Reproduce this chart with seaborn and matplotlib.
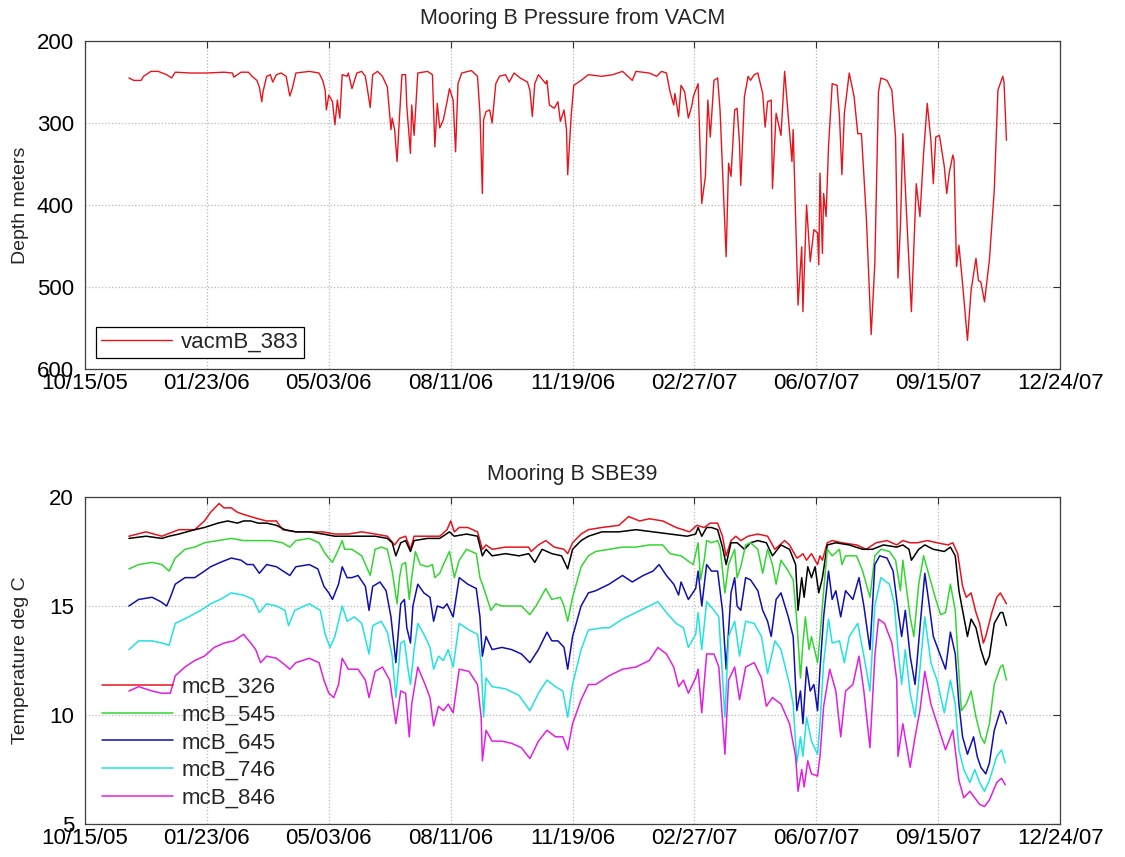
import matplotlib
matplotlib.use("Agg")
import numpy as np
import pandas as pd
import matplotlib.pyplot as plt
import matplotlib.dates as mdates
import seaborn as sns

# day offsets are counted from 10/15/05
START = pd.Timestamp("2005-10-15")

vacm_day = [36, 40, 46, 48, 54, 60, 67, 71, 74, 87, 99, 114, 121, 122, 128, 134, 137, 141, 143, 145,
            146, 149, 152, 154, 157, 161, 165, 168, 170, 173, 184, 192, 195, 197, 198, 200, 203, 205, 207, 209,
            211, 215, 216, 219, 223, 227, 230, 234, 236, 240, 244, 248, 251, 252, 254, 256, 258, 260, 263, 264,
            267, 268, 270, 273, 281, 285, 287, 289, 291, 294, 297, 299, 302, 304, 306, 309, 317, 322, 324, 326,
            327, 329, 332, 334, 337, 340, 345, 348, 352, 357, 363, 365, 367, 369, 372, 378, 379, 381, 385, 388,
            390, 393, 395, 396, 399, 401, 407, 413, 424, 433, 441, 449, 452, 463, 469, 473, 477, 480, 483, 484,
            487, 489, 492, 495, 498, 499, 503, 506, 509, 511, 513, 516, 519, 521, 526, 528, 530, 533, 535, 537,
            538, 541, 544, 546, 549, 552, 556, 558, 560, 563, 564, 567, 571, 574, 577, 580, 581, 585, 588, 589,
            592, 595, 598, 601, 602, 603, 605, 606, 608, 610, 613, 617, 619, 621, 623, 627, 631, 634, 637, 641,
            645, 648, 651, 653, 658, 662, 665, 667, 669, 671, 674, 678, 682, 685, 688, 691, 694, 696, 698, 701,
            705, 707, 709, 712, 713, 715, 717, 720, 724, 727, 731, 733, 735, 738, 742, 746, 749, 753, 754, 756]
vacm_depth = [245, 248, 248, 243, 237, 237, 241, 245, 238, 239, 239, 238, 239, 244, 238, 238, 243, 248, 256, 274,
              262, 243, 241, 250, 241, 239, 243, 267, 258, 239, 237, 239, 248, 260, 284, 266, 274, 302, 272, 294,
              241, 243, 239, 258, 239, 237, 243, 281, 241, 237, 243, 256, 308, 294, 308, 347, 292, 241, 241, 280,
              337, 278, 315, 239, 237, 241, 329, 276, 306, 296, 274, 258, 272, 335, 252, 239, 236, 243, 288, 386,
              296, 286, 284, 300, 252, 243, 241, 250, 239, 245, 250, 260, 292, 252, 241, 252, 248, 278, 282, 274,
              298, 284, 308, 363, 288, 254, 248, 241, 243, 241, 237, 248, 237, 239, 243, 237, 239, 262, 278, 264,
              292, 254, 262, 294, 278, 268, 252, 398, 365, 272, 317, 248, 245, 284, 463, 349, 365, 284, 282, 325,
              376, 268, 243, 248, 241, 239, 264, 305, 274, 272, 380, 288, 315, 237, 292, 347, 308, 522, 451, 530,
              400, 469, 430, 434, 473, 361, 459, 386, 414, 329, 252, 254, 292, 363, 288, 239, 268, 313, 313, 414,
              558, 471, 262, 245, 248, 260, 317, 489, 426, 313, 410, 530, 374, 414, 337, 276, 321, 374, 317, 315,
              353, 386, 361, 339, 345, 475, 449, 496, 565, 504, 465, 492, 494, 518, 467, 382, 260, 243, 250, 321]

t326_day = [36, 50, 63, 77, 90, 98, 103, 110, 114, 120, 125, 130, 136, 142, 149, 157, 162, 173, 184, 195,
            205, 216, 227, 238, 248, 254, 258, 263, 267, 270, 281, 291, 297, 300, 303, 307, 314, 322, 326, 329,
            334, 345, 356, 364, 366, 372, 378, 385, 393, 396, 400, 407, 413, 424, 438, 446, 455, 463, 474, 485,
            496, 502, 508, 513, 519, 523, 526, 530, 534, 538, 544, 552, 560, 566, 574, 578, 584, 587, 589, 592,
            596, 601, 603, 605, 609, 613, 621, 633, 641, 649, 658, 666, 671, 677, 683, 691, 699, 708, 712, 716,
            720, 723, 727, 731, 734, 737, 739, 744, 748, 751, 753, 756]
t326 = [18.2, 18.4, 18.2, 18.5, 18.5, 18.9, 19.3, 19.7, 19.5, 19.5, 19.3, 19.2, 19.1, 19.0, 18.9, 18.9, 18.5, 18.4, 18.4, 18.4,
        18.3, 18.3, 18.4, 18.3, 18.2, 17.8, 18.1, 18.2, 17.6, 18.2, 18.2, 18.2, 18.5, 18.9, 18.4, 18.6, 18.6, 18.4, 17.6, 17.8,
        17.6, 17.7, 17.7, 17.7, 17.5, 17.8, 18.0, 17.7, 17.6, 17.4, 17.9, 18.3, 18.5, 18.6, 18.7, 19.1, 18.9, 19.0, 18.9, 18.6,
        18.4, 18.7, 18.6, 18.8, 18.8, 18.2, 17.3, 18.0, 18.2, 18.0, 18.2, 18.3, 18.2, 17.6, 18.0, 17.8, 17.2, 17.3, 17.4, 17.1,
        17.4, 16.9, 17.3, 17.1, 17.9, 18.0, 17.9, 17.8, 17.6, 17.9, 18.0, 17.8, 18.0, 17.9, 17.9, 18.0, 17.9, 17.8, 17.9, 17.4,
        15.9, 15.4, 15.6, 14.7, 14.2, 13.3, 13.6, 14.7, 15.4, 15.6, 15.4, 15.1]

tblk_day = [36, 50, 63, 69, 77, 90, 98, 109, 117, 125, 130, 136, 142, 149, 157, 164, 173, 184, 195, 205,
            216, 227, 238, 248, 252, 255, 259, 263, 267, 270, 281, 291, 299, 303, 313, 322, 326, 329, 334, 345,
            356, 364, 369, 375, 383, 391, 396, 400, 407, 413, 424, 438, 452, 466, 480, 494, 501, 503, 506, 510,
            514, 519, 523, 526, 530, 535, 541, 546, 552, 559, 564, 571, 578, 583, 585, 588, 590, 593, 596, 599,
            602, 605, 609, 616, 627, 638, 646, 655, 666, 671, 676, 678, 684, 689, 696, 705, 710, 714, 717, 724,
            727, 731, 735, 739, 742, 746, 751, 753, 756]
tblk = [18.1, 18.2, 18.1, 18.2, 18.3, 18.5, 18.6, 18.8, 18.9, 18.8, 18.9, 18.9, 18.8, 18.8, 18.7, 18.5, 18.4, 18.4, 18.3, 18.2,
        18.2, 18.2, 18.2, 18.1, 17.9, 17.3, 17.9, 18.0, 17.5, 18.0, 18.1, 18.1, 18.4, 18.2, 18.3, 18.2, 17.3, 17.6, 17.3, 17.4,
        17.3, 17.4, 17.0, 17.6, 17.4, 17.3, 16.7, 17.6, 18.0, 18.2, 18.4, 18.4, 18.5, 18.4, 18.3, 18.2, 18.3, 18.6, 18.2, 18.6,
        18.6, 18.5, 17.7, 16.9, 17.9, 17.9, 17.6, 17.9, 18.0, 17.9, 17.3, 17.8, 17.6, 16.9, 14.8, 16.3, 15.4, 16.8, 16.3, 16.8,
        15.6, 16.3, 17.8, 17.9, 17.8, 17.6, 17.6, 17.8, 17.7, 17.8, 17.6, 17.1, 17.6, 17.8, 17.6, 17.5, 17.7, 17.3, 15.7, 13.6,
        14.4, 14.0, 13.0, 12.3, 12.7, 14.2, 14.7, 14.7, 14.1]

t545_day = [36, 44, 55, 63, 69, 74, 82, 90, 98, 109, 120, 130, 141, 152, 162, 168, 173, 184, 192, 197,
            203, 208, 211, 213, 219, 227, 234, 238, 243, 248, 252, 256, 258, 260, 263, 266, 268, 271, 275, 281,
            285, 287, 291, 294, 299, 303, 307, 313, 321, 324, 326, 329, 333, 337, 342, 350, 358, 365, 370, 378,
            383, 390, 393, 396, 400, 407, 413, 419, 430, 441, 452, 463, 474, 480, 489, 494, 499, 503, 505, 508,
            510, 514, 519, 521, 525, 528, 533, 535, 538, 542, 546, 552, 556, 560, 564, 567, 571, 577, 581, 584,
            587, 589, 591, 594, 596, 601, 603, 606, 609, 613, 619, 621, 624, 633, 638, 644, 648, 653, 660, 665,
            669, 671, 677, 680, 684, 688, 692, 698, 702, 706, 710, 714, 716, 719, 723, 727, 731, 735, 738, 742,
            746, 751, 753, 756]
t545 = [16.7, 16.9, 17.0, 16.9, 16.6, 17.2, 17.6, 17.7, 17.9, 18.0, 18.1, 18.0, 18.0, 18.0, 17.9, 17.7, 18.0, 18.1, 17.9, 17.4,
        17.0, 17.6, 18.0, 17.6, 17.6, 17.3, 16.4, 17.6, 17.7, 17.6, 16.6, 15.1, 16.3, 16.9, 17.0, 15.3, 16.3, 17.5, 16.9, 16.8,
        16.9, 16.3, 16.5, 16.9, 17.5, 16.3, 17.1, 17.6, 17.4, 16.3, 16.0, 15.5, 14.8, 15.1, 15.0, 15.0, 15.0, 14.6, 15.0, 15.8,
        15.3, 15.4, 15.0, 14.3, 15.4, 16.8, 17.3, 17.5, 17.6, 17.7, 17.7, 17.8, 17.8, 17.4, 17.3, 17.1, 16.9, 17.9, 16.2, 17.1,
        18.0, 17.9, 18.0, 17.7, 15.6, 16.9, 17.6, 16.3, 16.8, 17.8, 17.9, 17.6, 16.5, 17.6, 16.9, 16.0, 17.1, 16.6, 16.2, 14.3,
        11.7, 13.3, 14.5, 13.0, 13.6, 12.4, 13.6, 15.7, 17.6, 17.3, 17.6, 16.9, 17.3, 17.3, 16.6, 15.4, 17.3, 17.6, 17.5, 17.1,
        15.7, 17.1, 14.5, 13.6, 16.0, 17.3, 16.5, 15.3, 14.6, 14.7, 16.0, 14.8, 12.8, 10.2, 10.5, 11.1, 9.9, 9.0, 8.7, 9.6,
        11.4, 12.2, 12.3, 11.6]

t645_day = [36, 44, 55, 62, 67, 70, 74, 82, 90, 98, 103, 111, 120, 128, 133, 138, 143, 149, 157, 168,
            173, 184, 191, 196, 200, 203, 208, 211, 215, 219, 224, 230, 233, 236, 242, 247, 251, 255, 259, 262,
            264, 267, 269, 273, 278, 283, 286, 289, 294, 297, 302, 307, 314, 321, 324, 326, 329, 334, 342, 350,
            358, 365, 372, 379, 383, 388, 393, 396, 400, 407, 413, 419, 430, 441, 449, 458, 466, 471, 477, 483,
            487, 489, 495, 501, 503, 506, 510, 514, 519, 523, 526, 530, 533, 535, 538, 542, 546, 552, 556, 560,
            563, 567, 571, 577, 581, 584, 587, 589, 592, 595, 598, 601, 603, 606, 610, 613, 616, 620, 624, 630,
            635, 639, 644, 648, 652, 658, 663, 667, 670, 673, 677, 681, 685, 689, 692, 696, 702, 706, 710, 714,
            717, 720, 724, 729, 732, 735, 739, 742, 746, 751, 753, 756]
t645 = [15.0, 15.3, 15.4, 15.2, 15.0, 15.4, 16.0, 16.3, 16.3, 16.6, 16.8, 17.0, 17.2, 17.1, 16.9, 16.9, 16.5, 16.9, 16.8, 16.4,
        16.8, 16.9, 16.7, 15.9, 15.6, 15.3, 16.0, 16.8, 16.3, 16.3, 16.4, 15.9, 14.8, 15.9, 16.1, 15.7, 14.5, 12.4, 15.1, 15.3,
        14.0, 13.3, 15.0, 16.0, 15.6, 15.4, 14.3, 15.0, 14.9, 15.1, 14.5, 16.3, 16.0, 15.8, 14.5, 12.7, 13.6, 13.0, 13.1, 13.0,
        12.8, 12.4, 13.0, 13.8, 13.4, 13.4, 13.1, 12.1, 13.6, 15.0, 15.6, 15.7, 16.0, 16.4, 16.1, 16.4, 16.6, 16.9, 16.4, 16.0,
        15.5, 16.1, 15.3, 15.8, 16.6, 15.0, 16.9, 16.6, 16.6, 14.8, 12.1, 15.6, 16.3, 15.0, 14.8, 16.3, 16.2, 15.7, 14.8, 14.3,
        13.6, 15.3, 15.6, 14.5, 13.6, 10.2, 11.1, 9.6, 12.2, 11.1, 11.4, 10.2, 12.1, 14.5, 16.6, 15.3, 15.7, 14.5, 15.7, 15.3,
        16.3, 15.0, 13.0, 16.9, 17.3, 17.2, 16.6, 14.8, 13.6, 14.8, 12.7, 11.4, 14.0, 16.5, 15.3, 13.6, 12.7, 12.1, 13.8, 12.8,
        10.5, 9.0, 8.2, 9.0, 8.1, 7.6, 7.3, 7.8, 9.3, 10.2, 10.1, 9.6]

t746_day = [36, 44, 55, 63, 69, 74, 85, 95, 103, 111, 120, 130, 138, 143, 149, 157, 164, 167, 172, 184,
            193, 197, 201, 205, 211, 215, 221, 227, 233, 236, 243, 248, 252, 255, 259, 262, 265, 267, 270, 273,
            279, 283, 286, 290, 294, 298, 302, 307, 315, 322, 325, 327, 329, 334, 345, 356, 365, 372, 379, 386,
            392, 396, 400, 407, 413, 425, 430, 441, 452, 463, 470, 477, 485, 491, 495, 501, 503, 506, 510, 516,
            520, 525, 528, 533, 537, 542, 549, 555, 560, 566, 571, 578, 581, 584, 587, 589, 592, 596, 601, 603,
            606, 610, 613, 619, 623, 627, 634, 639, 644, 648, 653, 660, 664, 667, 670, 673, 677, 681, 685, 689,
            694, 699, 705, 710, 714, 717, 721, 726, 730, 734, 738, 742, 748, 752, 755]
t746 = [13.0, 13.4, 13.4, 13.3, 13.2, 14.2, 14.5, 14.8, 15.1, 15.3, 15.6, 15.5, 15.3, 14.7, 15.1, 15.0, 14.8, 14.1, 14.8, 15.1,
        14.8, 13.7, 13.1, 13.6, 15.0, 14.3, 14.5, 14.2, 12.8, 14.1, 14.3, 13.8, 12.7, 10.8, 13.3, 13.4, 12.1, 11.4, 13.0, 14.2,
        13.6, 13.1, 12.1, 12.7, 12.5, 13.0, 12.2, 14.2, 13.9, 13.7, 12.4, 9.9, 11.7, 11.3, 11.2, 10.9, 10.2, 11.0, 11.6, 11.3,
        11.1, 9.9, 11.4, 13.0, 13.9, 14.0, 14.0, 14.4, 14.7, 15.0, 15.2, 14.7, 14.2, 14.0, 13.1, 13.7, 14.7, 13.0, 15.2, 14.8,
        14.5, 9.9, 13.6, 14.3, 12.7, 14.3, 14.2, 13.6, 11.9, 13.4, 13.0, 11.4, 10.5, 7.8, 9.0, 8.1, 9.9, 8.8, 8.2, 9.6,
        12.4, 14.4, 13.3, 13.4, 12.4, 13.6, 14.2, 12.7, 11.1, 15.0, 16.3, 16.0, 15.1, 13.0, 11.4, 13.0, 11.0, 9.9, 12.1, 14.5,
        12.4, 11.6, 10.1, 11.6, 10.5, 8.4, 7.5, 6.9, 7.5, 6.9, 6.5, 7.0, 8.1, 8.4, 7.8]

t846_day = [36, 44, 55, 63, 70, 74, 82, 90, 98, 106, 114, 122, 130, 136, 140, 144, 149, 157, 164, 168,
            173, 184, 192, 196, 200, 204, 208, 211, 216, 224, 230, 233, 238, 244, 250, 252, 255, 259, 263, 266,
            268, 273, 279, 283, 286, 290, 294, 298, 302, 307, 315, 322, 325, 326, 329, 334, 342, 350, 358, 365,
            372, 379, 386, 392, 396, 400, 407, 413, 419, 430, 441, 452, 463, 470, 477, 483, 487, 491, 495, 501,
            503, 506, 510, 516, 520, 525, 528, 533, 537, 542, 549, 555, 559, 564, 571, 578, 583, 585, 588, 590,
            593, 596, 601, 603, 606, 611, 616, 620, 624, 630, 635, 639, 644, 648, 651, 656, 662, 666, 667, 671,
            677, 681, 685, 689, 694, 698, 702, 706, 712, 714, 717, 721, 726, 730, 734, 738, 742, 748, 752, 755]
t846 = [11.1, 11.3, 11.1, 11.0, 11.0, 11.8, 12.2, 12.5, 12.7, 13.1, 13.3, 13.4, 13.7, 13.3, 13.0, 12.4, 12.7, 12.6, 12.3, 12.1,
        12.4, 12.6, 12.4, 11.6, 11.0, 10.8, 11.4, 12.6, 12.1, 12.1, 11.6, 10.8, 12.0, 12.2, 11.6, 10.8, 9.6, 11.1, 11.0, 9.0,
        10.5, 12.2, 11.4, 10.8, 9.5, 10.4, 10.2, 10.5, 10.1, 12.1, 12.0, 11.4, 9.9, 7.9, 9.3, 8.8, 8.8, 8.7, 8.5, 8.0,
        8.8, 9.3, 9.0, 9.0, 8.4, 9.6, 10.7, 11.4, 11.4, 11.8, 12.1, 12.2, 12.5, 13.1, 12.8, 12.2, 11.3, 11.6, 11.0, 11.7,
        12.1, 10.1, 12.8, 12.8, 12.2, 8.2, 11.6, 12.2, 10.7, 12.2, 12.4, 11.7, 10.4, 10.8, 10.5, 9.6, 8.1, 6.5, 7.5, 6.7,
        7.9, 7.3, 7.2, 8.1, 10.4, 12.1, 11.1, 9.0, 11.1, 11.4, 12.7, 11.1, 8.5, 12.7, 14.4, 14.2, 13.3, 11.6, 8.1, 9.6,
        7.6, 9.0, 10.2, 12.0, 10.5, 9.8, 9.1, 8.4, 9.3, 8.4, 7.0, 6.2, 6.5, 6.2, 5.9, 5.8, 6.1, 6.9, 7.1, 6.8]

tick_dates = pd.date_range(START, periods=9, freq="100D")


def frame(days, vals):
    return pd.DataFrame({"date": START + pd.to_timedelta(days, unit="D"), "val": vals})


sns.set_theme(style="white")
plt.rcParams["font.family"] = ["Liberation Sans", "DejaVu Sans"]

fig = plt.figure(figsize=(11.25, 8.57), dpi=100)
ax1 = fig.add_axes([0.0756, 0.5694, 0.8667, 0.3827])
ax2 = fig.add_axes([0.0756, 0.0385, 0.8667, 0.3816])

sns.lineplot(data=frame(vacm_day, vacm_depth), x="date", y="val", ax=ax1,
             color="#e8141c", lw=1.0, estimator=None, label="vacmB_383")

series = [(t326_day, t326, "#e8141c", "mcB_326"),
          (tblk_day, tblk, "black", "_nolegend_"),
          (t545_day, t545, "#33d633", "mcB_545"),
          (t645_day, t645, "#1010b0", "mcB_645"),
          (t746_day, t746, "#22e2e2", "mcB_746"),
          (t846_day, t846, "#e020e0", "mcB_846")]
for d, v, c, lab in series:
    sns.lineplot(data=frame(d, v), x="date", y="val", ax=ax2, color=c, lw=1.1,
                 estimator=None, label=lab)

for ax in (ax1, ax2):
    ax.set_xlim(tick_dates[0], tick_dates[-1])
    ax.set_xticks(tick_dates)
    ax.xaxis.set_major_formatter(mdates.DateFormatter("%m/%d/%y"))
    ax.grid(True, linestyle=":", color="#b8b8b8", lw=0.9)
    ax.tick_params(direction="in", length=5, width=0.8, top=True, right=True,
                   labelsize=16, colors="#303030", labelcolor="black")
    ax.tick_params(axis="x", pad=3)
    ax.tick_params(axis="y", pad=8)
    for s in ax.spines.values():
        s.set_color("#404040")
        s.set_linewidth(0.9)
    ax.set_xlabel("")
    ax.yaxis.set_label_coords(-0.057, 0.5)

ax1.set_ylim(600, 200)
ax1.set_yticks([200, 300, 400, 500, 600])
ax1.set_ylabel("Depth meters", fontsize=14)
ax1.set_title("Mooring B Pressure from VACM", fontsize=15.5, pad=12)
leg1 = ax1.legend(loc="lower left", bbox_to_anchor=(0.0113, 0.0335), borderaxespad=0,
                  fontsize=16, handlelength=3.2, handletextpad=0.4, borderpad=0.22,
                  fancybox=False, framealpha=1, edgecolor="black")
leg1.get_frame().set_linewidth(0.9)

ax2.set_ylim(5, 20)
ax2.set_yticks([5, 10, 15, 20])
ax2.set_ylabel("Temperature deg C", fontsize=14)
ax2.set_title("Mooring B SBE39", fontsize=15.5, pad=12)
ax2.legend(loc="lower left", bbox_to_anchor=(0.008, 0.02), borderaxespad=0,
           fontsize=16, handlelength=3.2, handletextpad=0.4, labelspacing=0.3,
           frameon=False)

fig.savefig("out.png", dpi=100)
